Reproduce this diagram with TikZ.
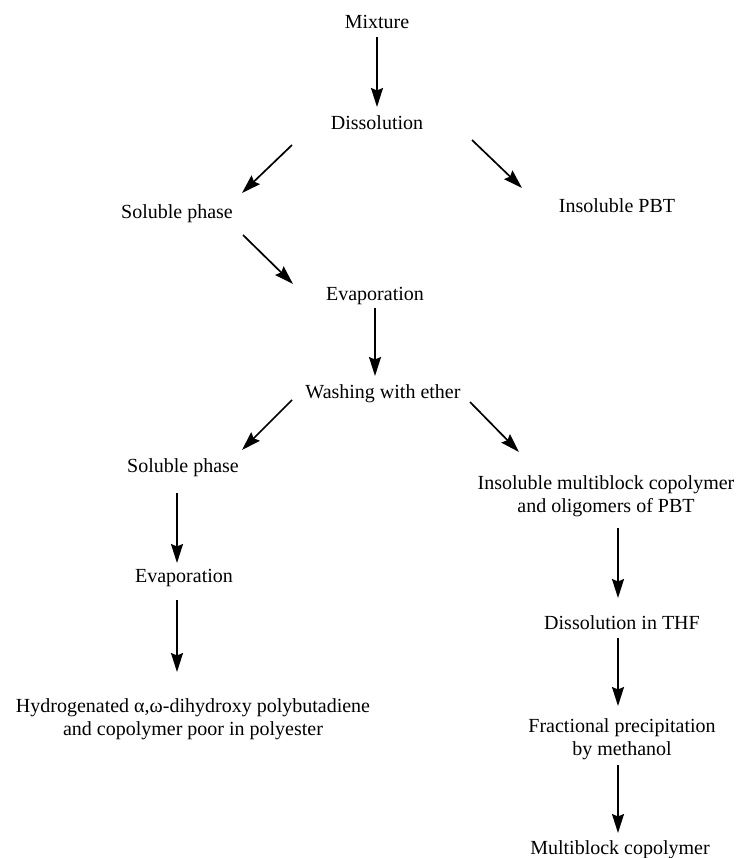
\documentclass[tikz,border=0pt]{standalone}
\usepackage{fontspec}
\setmainfont{Liberation Serif}
\usetikzlibrary{arrows.meta,calc}
\begin{document}
\begin{tikzpicture}[x=1pt,y=-1pt,
  lab/.style={inner sep=0pt, font=\fontsize{20}{23}\selectfont, text height=14pt, text depth=4.5pt},
  labtwo/.style={inner sep=0pt, font=\fontsize{20}{23}\selectfont, align=center},
  arr/.style={-{Stealth[length=19pt,width=12pt,inset=2.5pt]}, line width=1.7pt}]
\useasboundingbox (0,0) rectangle (738,858);
\node[lab] (mix) at (377,24) {Mixture};
\node[lab] (diss) at (377,125) {Dissolution};
\node[lab] (sol1) at (177,214) {Soluble phase};
\node[lab] (ins1) at (617,208) {Insoluble PBT};
\node[lab] (evap1) at (375,296) {Evaporation};
\node[lab] (wash) at (383,394) {Washing with ether};
\node[lab] (sol2) at (183,468) {Soluble phase};
\node[labtwo] (multi) at (606,496) {Insoluble multiblock copolymer\\and oligomers of PBT};
\node[lab] (evap2) at (184,578) {Evaporation};
\node[labtwo] (hyd) at (193,719) {Hydrogenated α,ω-dihydroxy polybutadiene\\and copolymer poor in polyester};
\node[lab] (thf) at (622,625) {Dissolution in THF};
\node[labtwo] (frac) at (622,739) {Fractional precipitation\\by methanol};
\node[lab] (mb) at (620,850) {Multiblock copolymer};
\draw[arr] ($(mix)+(0,13)$) -- ($(diss)+(0,-18)$);
\draw[arr] ($(diss)+(-85,20)$) -- ($(sol1)+(65,-21)$);
\draw[arr] ($(diss)+(95,15)$) -- ($(ins1)+(-95,-20)$);
\draw[arr] ($(sol1)+(66,21)$) -- ($(evap1)+(-82,-12)$);
\draw[arr] ($(evap1)+(0,12)$) -- ($(wash)+(-8,-18)$);
\draw[arr] ($(wash)+(-91,6)$) -- ($(sol2)+(59,-18)$);
\draw[arr] ($(wash)+(87,8)$) -- ($(multi)+(-87,-44)$);
\draw[arr] ($(sol2)+(-6,25)$) -- ($(evap2)+(-7,-15)$);
\draw[arr] ($(evap2)+(-7,22)$) -- ($(hyd)+(-16,-47)$);
\draw[arr] ($(multi)+(12,32)$) -- ($(thf)+(-4,-27)$);
\draw[arr] ($(thf)+(-4,13)$) -- ($(frac)+(-4,-33)$);
\draw[arr] ($(frac)+(-4,26)$) -- ($(mb)+(-2,-17)$);
\end{tikzpicture}
\end{document}
